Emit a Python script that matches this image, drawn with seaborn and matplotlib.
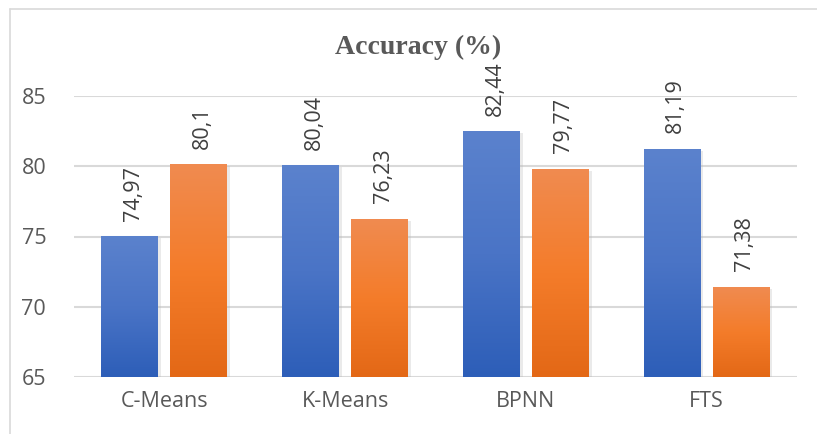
import numpy as np
import pandas as pd
import matplotlib
matplotlib.use('Agg')
import matplotlib.pyplot as plt
import seaborn as sns
from matplotlib.colors import LinearSegmentedColormap
from matplotlib.lines import Line2D
from matplotlib import patheffects as pe

# ---------------- data ----------------
methods = ['C-Means', 'K-Means', 'BPNN', 'FTS']
series_a = [74.97, 80.04, 82.44, 81.19]
series_b = [80.1, 76.23, 79.77, 71.38]
labels_a = ['74,97', '80,04', '82,44', '81,19']
labels_b = ['80,1', '76,23', '79,77', '71,38']

df = pd.DataFrame({
    'method': methods * 2,
    'acc': series_a + series_b,
    'series': ['a'] * 4 + ['b'] * 4,
    'label': labels_a + labels_b,
})

sns.set_theme(style='white')
plt.rcParams['font.family'] = ['Open Sans', 'DejaVu Sans']

fig = plt.figure(figsize=(8.17, 4.34), dpi=100)
ax = fig.add_axes([74 / 817, 1 - 377 / 434, (797 - 74) / 817, (377 - 96) / 434])

sns.barplot(data=df, x='method', y='acc', hue='series', order=methods,
            hue_order=['a', 'b'], width=0.763, gap=0.175, legend=False, ax=ax)

grads = {
    'a': LinearSegmentedColormap.from_list('blue', ['#2d5eb8', '#4a74c6', '#5b82cd']),
    'b': LinearSegmentedColormap.from_list('orange', ['#e36816', '#f47c2a', '#f08b50']),
}
grad = np.linspace(0, 1, 256).reshape(-1, 1)

bars = ax.patches
order = [(s, m) for s in ['a', 'b'] for m in methods]
for p, (s, m) in zip(bars, order):
    x0, w, h = p.get_x(), p.get_width(), p.get_height()
    ax.imshow(grad, cmap=grads[s], origin='lower', aspect='auto',
              extent=(x0, x0 + w, 65, h), zorder=3)
    p.set_facecolor('none')
    p.set_edgecolor('none')
    p.set_zorder(2.5)
    p.set_path_effects([pe.SimplePatchShadow(offset=(2, -1), shadow_rgbFace='#bbbbbb', alpha=0.3)])
    row = df[(df.series == s) & (df.method == m)].iloc[0]
    ax.text(x0 + w / 2 + 0.02, h + 1.15, row['label'], rotation=90, ha='center', va='bottom',
            fontsize=15.5, color='#404040', clip_on=False, zorder=4)

ax.set_xlim(-0.5, 3.5)
ax.set_ylim(65, 85)
ax.set_yticks([65, 70, 75, 80, 85])
ax.yaxis.grid(True, color='#d9d9d9', linewidth=1.5, zorder=0)
ax.set_axisbelow(True)
for sp in ax.spines.values():
    sp.set_visible(False)
ax.tick_params(axis='both', length=0, labelsize=15.5, labelcolor='#595959')
ax.tick_params(axis='x', pad=10)
ax.tick_params(axis='y', pad=20)
ax.set_xlabel('')
ax.set_ylabel('')

fig.text(418 / 817, 1 - 47 / 434, 'Accuracy (%)', ha='center', va='center',
         fontsize=20, fontweight='bold', color='#595959', family=['Liberation Serif', 'DejaVu Serif'])

# chart border (top and left visible)
fig.add_artist(Line2D([10 / 817, 10 / 817], [0, 1 - 9 / 434], transform=fig.transFigure, color='#d9d9d9', lw=1.2))
fig.add_artist(Line2D([10 / 817, 1], [1 - 9 / 434, 1 - 9 / 434], transform=fig.transFigure, color='#d9d9d9', lw=1.2))

fig.savefig('out.png', dpi=100)
